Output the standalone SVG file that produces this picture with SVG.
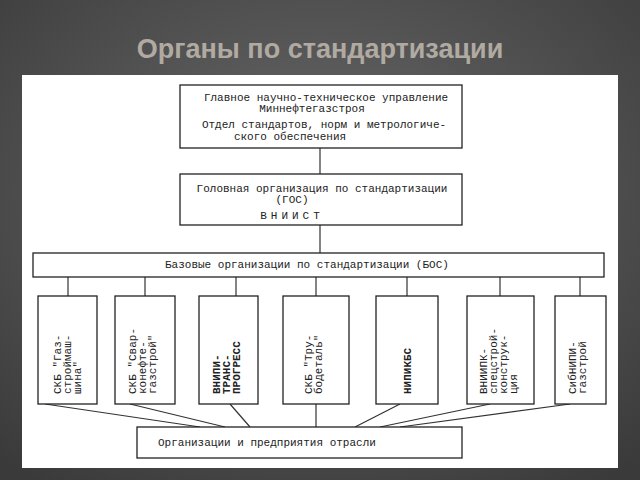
<svg xmlns="http://www.w3.org/2000/svg" width="640" height="480" viewBox="0 0 640 480">
<defs>
<radialGradient id="bg" cx="50%" cy="40%" r="75%"><stop offset="0" stop-color="#6a6a6a"/><stop offset="1" stop-color="#3a3a3a"/></radialGradient>
<style>
.b{fill:#fff;stroke:#222;stroke-width:1.3}
.t{font-family:"Liberation Mono",monospace;font-size:11px;fill:#222}
.v{font-family:"Liberation Mono",monospace;font-size:11px;fill:#222;font-weight:bold}
.c{stroke:#333;stroke-width:1.2;fill:none}
</style>
</defs>
<rect width="640" height="480" fill="url(#bg)"/>
<text x="320" y="58" text-anchor="middle" font-family="Liberation Sans,Arial,sans-serif" font-size="27" font-weight="bold" fill="#b0aaa2">Органы по стандартизации</text>
<rect x="22" y="75" width="596" height="393" fill="#fff"/>
<g id="connectors" class="c">
<path d="M320 148V174M320 225V253"/>
<path d="M68 277V296M145 277V296M236 277V296M316 277V296M407 277V296M500 277V296M580 277V296"/>
<path d="M45 404L200 427M130 404L225 427M230 404L250 427M316 404V427M400 404L355 427M490 404L380 427M570 404L400 427"/>
</g>
<g id="top"><rect class="b" x="180" y="85" width="282" height="63"/>
<text class="t" x="326" y="101" text-anchor="middle">Главное научно-техническое управление</text>
<text class="t" x="312" y="112" text-anchor="middle">Миннефтегазстроя</text>
<text class="t" x="324" y="128" text-anchor="middle">Отдел стандартов, норм и метрологиче-</text>
<text class="t" x="290" y="140" text-anchor="middle">ского обеспечения</text></g>
<g id="gos"><rect class="b" x="180" y="174" width="282" height="51"/>
<text class="t" x="322" y="192" text-anchor="middle">Головная организация по стандартизации</text>
<text class="t" x="292" y="203" text-anchor="middle">(ГОС)</text>
<text class="t" x="292" y="219" text-anchor="middle" letter-spacing="4">ВНИИСТ</text></g>
<g id="bos"><rect class="b" x="33" y="253" width="571" height="24"/>
<text class="t" x="165" y="268">Базовые организации по стандартизации (БОС)</text></g>
<g id="n1"><rect class="b" x="38" y="296" width="59" height="108"/>
<g transform="translate(0,394)"><text class="t" transform="rotate(-90)" x="0" y="61">СКБ "Газ-</text><text class="t" transform="rotate(-90)" x="0" y="71">строймаш-</text><text class="t" transform="rotate(-90)" x="0" y="81">шина"</text></g></g>
<g id="n2"><rect class="b" x="115" y="296" width="60" height="108"/>
<g transform="translate(0,394)"><text class="t" transform="rotate(-90)" x="0" y="136">СКБ "Свар-</text><text class="t" transform="rotate(-90)" x="0" y="146">конефте-</text><text class="t" transform="rotate(-90)" x="0" y="156">газстрой"</text></g></g>
<g id="n3"><rect class="b" x="199" y="296" width="59" height="108"/>
<g transform="translate(0,394)"><text class="v" transform="rotate(-90)" x="0" y="220">ВНИПИ-</text><text class="v" transform="rotate(-90)" x="0" y="230">ТРАНС-</text><text class="v" transform="rotate(-90)" x="0" y="240">ПРОГРЕСС</text></g></g>
<g id="n4"><rect class="b" x="283" y="296" width="66" height="108"/>
<g transform="translate(0,394)"><text class="t" transform="rotate(-90)" x="0" y="312">СКБ "Тру-</text><text class="t" transform="rotate(-90)" x="0" y="322">бодеталь"</text></g></g>
<g id="n5"><rect class="b" x="376" y="296" width="62" height="108"/>
<g transform="translate(0,394)"><text class="v" transform="rotate(-90)" x="0" y="411">НИПИКБС</text></g></g>
<g id="n6"><rect class="b" x="467" y="296" width="67" height="108"/>
<g transform="translate(0,394)"><text class="t" transform="rotate(-90)" x="0" y="487">ВНИИПК-</text><text class="t" transform="rotate(-90)" x="0" y="497">спецстрой-</text><text class="t" transform="rotate(-90)" x="0" y="507">конструк-</text><text class="t" transform="rotate(-90)" x="0" y="517">ция</text></g></g>
<g id="n7"><rect class="b" x="555" y="296" width="51" height="108"/>
<g transform="translate(0,394)"><text class="t" transform="rotate(-90)" x="0" y="576">СибНИПИ-</text><text class="t" transform="rotate(-90)" x="0" y="586">газстрой</text></g></g>
<g id="bottom"><rect class="b" x="137" y="427" width="325" height="31"/>
<text class="t" x="158" y="446">Организации и предприятия отрасли</text></g>
</svg>
